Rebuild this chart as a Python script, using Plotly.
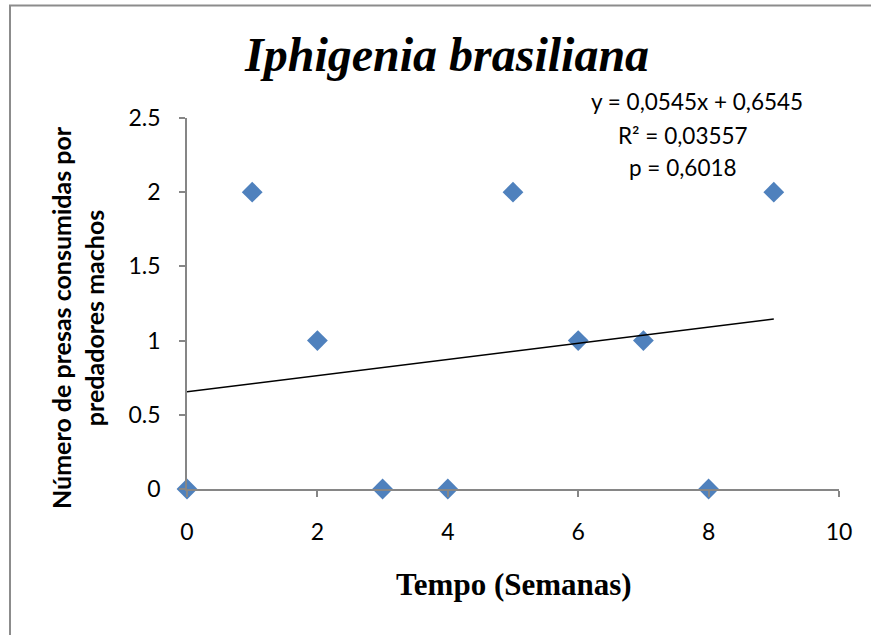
import plotly.graph_objects as go

weeks = [0, 1, 2, 3, 4, 5, 6, 7, 8, 9]
prey = [0, 2, 1, 0, 0, 2, 1, 1, 0, 2]
slope = 0.0545
intercept = 0.6545
trend_x = [0, 9]
trend_y = [intercept + slope * x for x in trend_x]
eq_lines = ["y = 0,0545x + 0,6545", "R² = 0,03557", "p = 0,6018"]

W, H = 871, 635
L, R, T, B = 187, 32, 118, 146
pw, ph = W - L - R, H - T - B

def px(x):
    return (x - L) / pw

def py(y):
    return (H - B - y) / ph

fig = go.Figure()
fig.add_trace(go.Scatter(x=weeks, y=prey, mode="markers",
                         marker=dict(symbol="diamond", size=16, color="#4f81bd"),
                         cliponaxis=False, showlegend=False))
fig.add_trace(go.Scatter(x=trend_x, y=trend_y, mode="lines",
                         line=dict(color="black", width=1.5), showlegend=False))

sans = "Lato, Carlito, sans-serif"
serif = "Liberation Serif, Times New Roman, serif"
tickfont = dict(family=sans, size=23, color="black")
fig.update_xaxes(range=[0, 10], dtick=2, showgrid=False, zeroline=False,
                 showline=True, linecolor="#868686", linewidth=1.5,
                 ticks="outside", ticklen=6, tickcolor="#868686", tickwidth=1.5,
                 tickfont=tickfont, ticklabelstandoff=16)
fig.update_yaxes(range=[0, 2.5], dtick=0.5, tickformat=".1~f", showgrid=False, zeroline=False,
                 showline=True, linecolor="#868686", linewidth=1.5,
                 ticks="outside", ticklen=6, tickcolor="#868686", tickwidth=1.5,
                 tickfont=tickfont, ticklabelstandoff=14)

fig.add_annotation(text="<b>Número de presas consumidas por<br>predadores machos</b>",
                   xref="paper", yref="paper", x=px(77), y=py(318), textangle=-90,
                   xanchor="center", yanchor="middle",
                   showarrow=False, font=dict(family=sans, size=25, color="black"))
fig.add_annotation(text="<b>Tempo (Semanas)</b>", xref="paper", yref="paper",
                   x=px(514), y=py(584), xanchor="center", yanchor="middle", showarrow=False,
                   font=dict(family=serif, size=31, color="black"))
fig.add_annotation(text="<b><i>Iphigenia brasiliana</i></b>", xref="paper", yref="paper",
                   x=px(446), y=py(54), xanchor="center", yanchor="middle", showarrow=False,
                   font=dict(family=serif, size=48, color="black"))
eq_x = [697, 683, 683]
eq_y = [102, 135, 167]
for t, ex, ey in zip(eq_lines, eq_x, eq_y):
    fig.add_annotation(text=t, xref="paper", yref="paper", x=px(ex), y=py(ey),
                       xanchor="center", yanchor="middle",
                       showarrow=False, font=dict(family=sans, size=22.5, color="black"))

fig.add_shape(type="path", xref="paper", yref="paper",
              path=f"M {px(10)} {py(700)} L {px(10)} {py(5.5)} L {px(900)} {py(5.5)}",
              line=dict(color="#8c8c8c", width=2))

fig.update_layout(width=W, height=H, margin=dict(l=L, r=R, t=T, b=B),
                  paper_bgcolor="white", plot_bgcolor="white")
fig.write_html("out.html")
